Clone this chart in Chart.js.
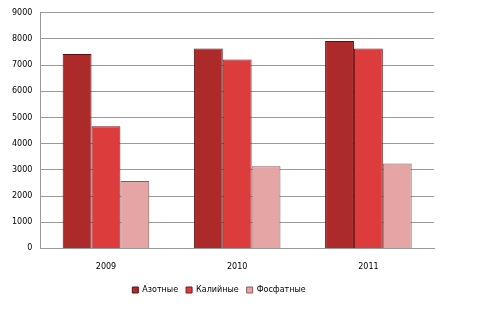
<!DOCTYPE html>
<html lang="ru">
<head>
<meta charset="UTF-8">
<title>Удобрения</title>
<script src="https://cdn.jsdelivr.net/npm/chart.js"></script>
<style>
    body { margin: 0; background: #fff; }
    #wrap { width: 479px; height: 327px; }
</style>
</head>
<body>
<div id="wrap"><canvas id="chart" width="479" height="327"></canvas></div>
<script>
const years = ['2009', '2010', '2011'];
const azotnye = [7430, 7640, 7920];
const kaliynye = [4670, 7220, 7640];
const fosfatnye = [2570, 3140, 3240];

const ctx = document.getElementById('chart').getContext('2d');
new Chart(ctx, {
    type: 'bar',
    data: {
        labels: years,
        datasets: [
            { label: 'Азотные', data: azotnye, backgroundColor: '#ad2a2a', borderColor: '#5e1010' },
            { label: 'Калийные', data: kaliynye, backgroundColor: '#dc3c3c', borderColor: '#7a1818' },
            { label: 'Фосфатные', data: fosfatnye, backgroundColor: '#e6a5a5', borderColor: '#8e5a5a' }
        ]
    },
    options: {
        responsive: false,
        animation: false,
        datasets: {
            bar: { borderWidth: 1, barPercentage: 1, categoryPercentage: 0.66 }
        },
        layout: { padding: { top: 6, right: 45, left: 4, bottom: 23 } },
        scales: {
            x: {
                grid: { display: false },
                border: { color: '#999' },
                ticks: { color: '#000', font: { family: 'DejaVu Sans', size: 8 }, padding: 6 }
            },
            y: {
                min: 0, max: 9000,
                ticks: {
                    stepSize: 1000, color: '#000', padding: 8,
                    font: { family: 'DejaVu Sans', size: 8 },
                    callback: v => String(v)
                },
                grid: { color: '#9a9a9a', drawTicks: false },
                border: { color: '#999' }
            }
        },
        plugins: {
            legend: {
                position: 'bottom',
                labels: {
                    boxWidth: 6, boxHeight: 6, padding: 8,
                    color: '#000', font: { family: 'DejaVu Sans', size: 8 }
                }
            },
            tooltip: { enabled: false }
        }
    }
});
</script>
</body>
</html>
